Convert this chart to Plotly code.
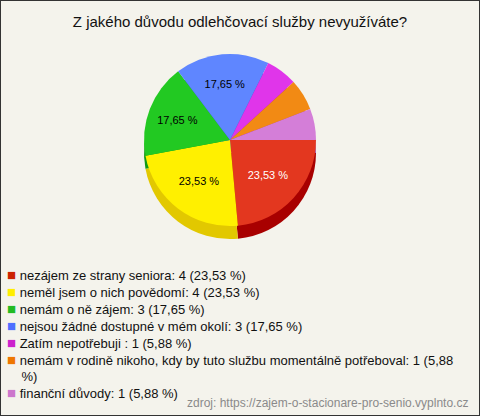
import plotly.graph_objects as go

title = "Z jakého důvodu odlehčovací služby nevyužíváte?"
categories = [
    "nezájem ze strany seniora",
    "neměl jsem o nich povědomí",
    "nemám o ně zájem",
    "nejsou žádné dostupné v mém okolí",
    "Zatím nepotřebuji ",
    "nemám v rodině nikoho, kdy by tuto službu momentálně potřeboval",
    "finanční důvody",
]
values = [4, 4, 3, 3, 1, 1, 1]
top_colors = ["#e3371f", "#fff000", "#22c922", "#5f86ff", "#e035ea", "#f28a14", "#d47ed8"]
side_colors = ["#a80000", "#e2c800", "#119a11", "#3355cc", "#a810b0", "#c06000", "#a85aa8"]
legend_colors = ["#cc2200", "#ffee00", "#22bb22", "#4d6fff", "#cc22cc", "#ee7700", "#cc77cc"]
text_colors = ["#ffffff", "#000000", "#000000", "#000000", "#000000", "#000000", "#000000"]
source = "zdroj: https://zajem-o-stacionare-pro-senio.vyplnto.cz"

FONT = "Liberation Sans, Arial, sans-serif"
total = sum(values)
pcts = [f"{v / total * 100:.2f}".replace(".", ",") for v in values]
slice_text = [f"{p} %" if v / total > 0.1 else "" for p, v in zip(pcts, values)]
legend_labels = [f"{c}: {v} ({p} %)" for c, v, p in zip(categories, values, pcts)]
legend_labels[5] = legend_labels[5].replace("(5,88 %)", "(5,88<br>&nbsp;&nbsp;&nbsp;&nbsp;%)")
legend_text = "<br>".join(
    f'<span style="color:{col};font-size:15px">■</span> {lab}' for col, lab in zip(legend_colors, legend_labels)
)

W, H = 480, 416
dom_x = [143 / W, 317 / W]
dom_top = [1 - 226 / H, 1 - 54 / H]
depth = 13 / H

fig = go.Figure()
fig.add_trace(go.Pie(
    labels=categories, values=values, sort=False, direction="clockwise", rotation=90,
    marker=dict(colors=side_colors, line=dict(width=0)),
    domain=dict(x=dom_x, y=[dom_top[0] - depth, dom_top[1] - depth]),
    textinfo="none", hoverinfo="skip", showlegend=False,
))
fig.add_trace(go.Pie(
    labels=categories, values=values, sort=False, direction="clockwise", rotation=90,
    marker=dict(colors=top_colors, line=dict(width=0)),
    domain=dict(x=dom_x, y=dom_top),
    text=slice_text, textinfo="text", textposition="inside", insidetextorientation="horizontal",
    textfont=dict(color=text_colors, size=11, family=FONT),
    showlegend=False,
))

fig.add_annotation(text=legend_text, xref="paper", yref="paper", x=5 / W, y=1 - 264 / H,
                   xanchor="left", yanchor="top", align="left", showarrow=False,
                   font=dict(size=13, color="#111111", family=FONT))
fig.add_annotation(text=source, xref="paper", yref="paper", x=1 - 10 / W, y=1 - 403 / H,
                   xanchor="right", yanchor="middle", showarrow=False,
                   font=dict(size=12, color="#8a8a8a", family=FONT))
fig.add_shape(type="rect", xref="paper", yref="paper", x0=0, y0=0, x1=1, y1=1,
              line=dict(color="#333333", width=2))

fig.update_layout(
    width=W, height=H, margin=dict(l=0, r=0, t=0, b=0),
    paper_bgcolor="#f4f3ec", plot_bgcolor="#f4f3ec",
    font=dict(family=FONT, color="#111111"),
    title=dict(text=title, x=0.5, xanchor="center", y=1 - 22 / H, yanchor="middle",
               font=dict(size=15, color="#111111")),
    showlegend=False,
)
fig.write_html("out.html", config={"displayModeBar": False},
               post_script="document.body.style.margin='0';document.body.style.overflow='hidden';")
